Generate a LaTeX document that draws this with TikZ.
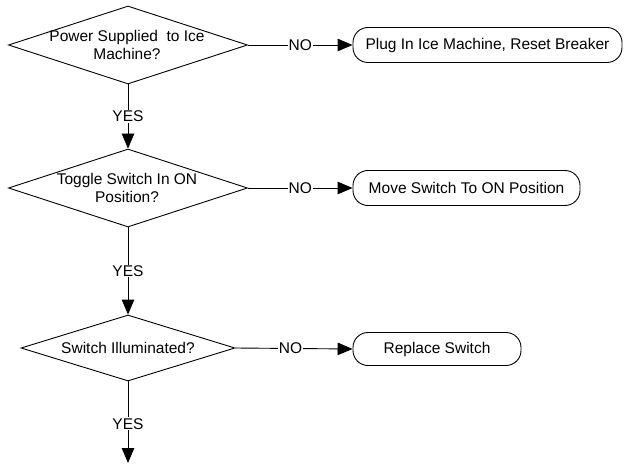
\documentclass[tikz,border=0pt]{standalone}
\usepackage{fontspec}
\setmainfont{Liberation Sans}
\usetikzlibrary{shapes.geometric,arrows.meta}
\begin{document}
\begin{tikzpicture}[x=1pt,y=-1pt,
  every node/.style={font=\fontsize{15.5}{17.5}\selectfont},
  decision/.style={diamond,draw,line width=0.9pt,inner sep=0pt},
  dtext/.style={align=center,inner sep=0pt},
  termbox/.style={draw,line width=0.9pt,rounded corners=15pt,minimum height=35pt,inner sep=0pt},
  lbl/.style={fill=white,inner sep=1pt},
  conn/.style={line width=0.9pt,-{Triangle[length=15pt,width=12.5pt]}}]
\useasboundingbox (0,0) rectangle (626,465);
\node[decision,minimum width=239pt,minimum height=78pt] (d1) at (128,45) {};
\node[dtext] (d1t) at (127,45) {Power Supplied\ \ to Ice\\Machine?};
\node[decision,minimum width=239pt,minimum height=78pt] (d2) at (128,188) {};
\node[dtext] (d2t) at (127,188) {Toggle Switch In ON\\Position?};
\node[decision,minimum width=214pt,minimum height=66pt] (d3) at (128,348) {};
\node[dtext] (d3t) at (128,348) {Switch Illuminated?};
\node[termbox,minimum width=269pt] (b1) at (487.5,45) {Plug In Ice Machine, Reset Breaker};
\node[termbox,minimum width=227pt] (b2) at (466.5,188) {Move Switch To ON Position};
\node[termbox,minimum width=168pt,minimum height=33pt] (b3) at (437,349) {Replace Switch};
\coordinate (end) at (128,463);
\draw[conn] (d1.east) -- node[lbl]{NO} (b1.west);
\draw[conn] (d2.east) -- node[lbl]{NO} (b2.west);
\draw[conn] (d3.east) -- node[lbl,pos=0.47]{NO} (b3.west);
\draw[conn] (d1.south) -- node[lbl]{YES} (d2.north);
\draw[conn] (d2.south) -- node[lbl]{YES} (d3.north);
\draw[conn] (d3.south) -- node[lbl,pos=0.52]{YES} (end);
\end{tikzpicture}
\end{document}
